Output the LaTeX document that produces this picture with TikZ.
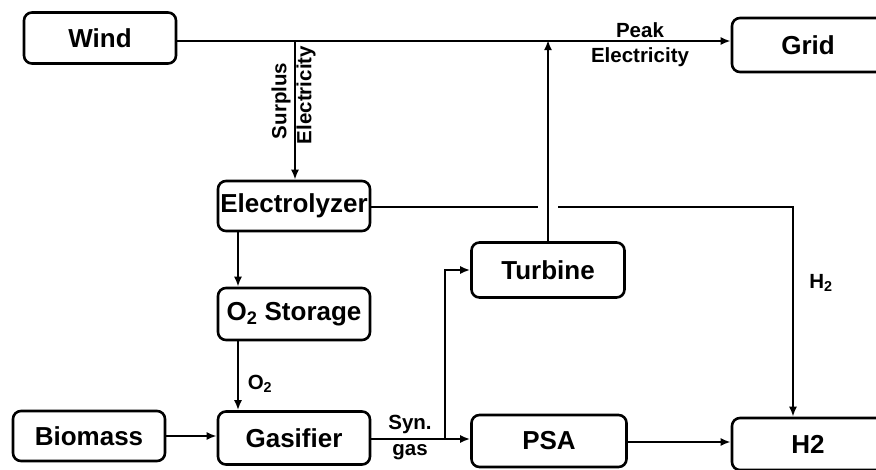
\documentclass[tikz,border=0pt]{standalone}
\usepackage{fontspec}
\setmainfont{Liberation Sans}
\usetikzlibrary{arrows.meta}
\begin{document}
\begin{tikzpicture}[x=1pt,y=-1pt,
  box/.style={draw,line width=2.6pt,rounded corners=8pt,inner sep=0pt,
    minimum width=152pt,minimum height=52pt,
    font=\fontsize{26}{30}\selectfont\bfseries},
  lab/.style={inner sep=0pt,font=\fontsize{20.5}{24}\selectfont\bfseries},
  ln/.style={line width=2.4pt},
  arr/.style={line width=2.4pt,-{Latex[length=10pt,width=8pt]}}]
\useasboundingbox (0,0) rectangle (876,469);
% nodes
\node[box,minimum height=51pt] (wind) at (100,38) {Wind};
\node[box,minimum height=54pt] (grid) at (808,45) {Grid};
\node[box,minimum height=50pt] (elec) at (294,206) {Electrolyzer};
\node[box] (o2) at (294,314) {O\textsubscript{2} Storage};
\node[box,minimum height=50pt] (bio) at (89,436) {Biomass};
\node[box,minimum height=53pt] (gas) at (294,438) {Gasifier};
\node[box,minimum height=55pt,minimum width=153pt] (turb) at (548,270) {Turbine};
\node[box,minimum width=155pt] (psa) at (549,441) {PSA};
\node[box] (h2) at (808,444) {H2};
% helper coordinates
\coordinate (wl) at (0,41);
\coordinate (sp) at (295,41);
\coordinate (cx) at (238,0);
\coordinate (br) at (445,439);
\coordinate (gl) at (538,207);
\coordinate (gr) at (558,207);
\coordinate (hx) at (793,207);
% connectors
\draw[arr] (wind.east |- wl) -- (grid.west |- wl);
\draw[arr] (sp) -- (sp |- elec.north);
\draw[arr] (elec.south -| cx) -- (o2.north -| cx);
\draw[arr] (o2.south -| cx) -- (gas.north -| cx);
\draw[arr] (bio.east) -- (bio.east -| gas.west);
\draw[arr] (gas.east |- br) -- (psa.west |- br);
\draw[arr] (br) |- (turb.west);
\draw[arr] (turb.north) -- ([yshift=1pt]turb.north |- wl);
\draw[ln] (elec.east |- gl) -- (gl);
\draw[arr] (gr) -- (hx) -- (hx |- h2.north);
\draw[arr] (psa.east |- 0,442) -- (h2.west |- 0,442);
% labels
\node[lab,rotate=90] (lsur) at (281,101) {Surplus};
\node[lab,rotate=90] (lele) at (306,95) {Electricity};
\node[lab] (lpk) at (640,30) {Peak};
\node[lab] (lpe) at (640,57) {Electricity};
\node[lab] (lo2) at (260,384) {O\textsubscript{2}};
\node[lab] (lsyn) at (410,424) {Syn.};
\node[lab] (lgas) at (410,452) {gas};
\node[lab] (lh2) at (821,283) {H\textsubscript{2}};
\end{tikzpicture}
\end{document}
